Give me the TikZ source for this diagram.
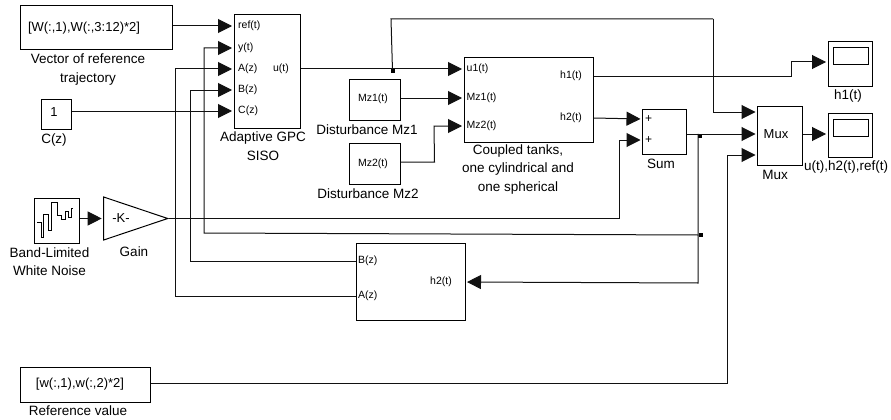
\documentclass[tikz,border=0pt]{standalone}
\usepackage{fontspec}
\setmainfont{Liberation Sans}
\usetikzlibrary{arrows.meta,shapes.geometric}
\definecolor{WireGray}{HTML}{111111}

\begin{document}
\begin{tikzpicture}[x=1pt,y=-1pt,
  block/.style={draw,line width=1pt,inner sep=0pt,font=\fontsize{13}{15}\selectfont},
  lab/.style={inner sep=0pt,align=center,font=\fontsize{13.5}{18.5}\selectfont},
  port/.style={inner sep=0pt,font=\fontsize{10.5}{12}\selectfont},
  wire/.style={WireGray,line width=1pt},
  sig/.style={wire,-{Triangle[length=14pt,width=14pt]},shorten >=1.5pt},
  dot/.style={fill=black,inner sep=0pt,minimum size=4pt}]
  \useasboundingbox (0,0) rectangle (891,420);
  % sources
  \node[block,minimum width=152pt,minimum height=44pt] (vec) at (96,28) {\hspace*{-24pt}\raisebox{1pt}{[W(:,1),W(:,3:12)*2]}};
  \node[block,minimum width=30pt,minimum height=30pt] (cz) at (56,114) {\hspace*{-4pt}\raisebox{3pt}{1}};
  \node[block,minimum width=45pt,minimum height=45pt] (noise) at (56.5,220.5) {};
  \draw[line width=0.8pt] (37,222) -- (41,222) -- (41,237) -- (43,237) -- (43,214) -- (48,214)
    -- (48,230) -- (51,230) -- (51,202) -- (57,202) -- (57,215) -- (61,215) -- (61,219)
    -- (65,219) -- (65,211) -- (68,211) -- (68,217) -- (71,217) -- (71,208) -- (73,208);
  \node[draw,line width=1pt,inner sep=0pt,isosceles triangle,isosceles triangle stretches,
    minimum width=43pt,minimum height=64pt,anchor=apex] (gain) at (169,218.5) {};
  \node[block,minimum width=130pt,minimum height=35pt] (refval) at (85,384.5) {\hspace*{-10pt}[w(:,1),w(:,2)*2]};
  \node[block,minimum width=51pt,minimum height=41pt,font=\fontsize{10.5}{12}\selectfont] (mzone) at (374.5,99.5) {\hspace*{-3pt}\raisebox{3pt}{Mz1(t)}};
  \node[block,minimum width=51pt,minimum height=41pt,font=\fontsize{10.5}{12}\selectfont] (mztwo) at (374.5,163.5) {\hspace*{-3pt}\raisebox{2pt}{Mz2(t)}};
  % main blocks
  \node[block,minimum width=66pt,minimum height=113pt] (gpc) at (267,71.5) {};
  \node[block,minimum width=129pt,minimum height=84pt] (tanks) at (528.5,100) {};
  \node[block,minimum width=109pt,minimum height=77pt] (est) at (410.5,281.5) {};
  \node[block,minimum width=44pt,minimum height=45pt] (sum) at (664.5,131.5) {};
  \node[block,minimum width=45pt,minimum height=59pt] (mux) at (779.5,135.5) {\hspace*{-7pt}\raisebox{2pt}{Mux}};
  \node[block,minimum width=44pt,minimum height=44pt] (scopeh) at (850,64) {};
  \node[block,minimum width=44pt,minimum height=44pt] (scopeu) at (850,135) {};
  \node[draw,line width=1pt,inner sep=0pt,minimum width=35pt,minimum height=17pt] (scrh) at (850.5,56.5) {};
  \node[draw,line width=1pt,inner sep=0pt,minimum width=35pt,minimum height=17pt] (scru) at (850.5,127.5) {};
  \node[port,font=\fontsize{13}{15}\selectfont] (gtxt) at (121,218) {-K-};
  % ports
  \node[port,anchor=west] (pref) at (238,26) {ref(t)};
  \node[port,anchor=west] (py) at (238,48) {y(t)};
  \node[port,anchor=west] (pa) at (238,69) {A(z)};
  \node[port,anchor=west] (pb) at (238,90) {B(z)};
  \node[port,anchor=west] (pc) at (238,111) {C(z)};
  \node[port,anchor=east] (pu) at (289,69) {u(t)};
  \node[port,anchor=west] (puone) at (466.5,69) {u1(t)};
  \node[port,anchor=west] (pmzone) at (466.5,98) {Mz1(t)};
  \node[port,anchor=west] (pmztwo) at (466.5,126) {Mz2(t)};
  \node[port,anchor=east] (phone) at (582,76) {h1(t)};
  \node[port,anchor=east] (phtwo) at (582,118) {h2(t)};
  \node[port,anchor=west] (eb) at (358,261) {B(z)};
  \node[port,anchor=west] (ea) at (358,296) {A(z)};
  \node[port,anchor=east] (eh) at (452,282) {h2(t)};
  \node[port,anchor=west,font=\fontsize{12}{12}\selectfont] (splus) at (645,119) {+};
  \node[port,anchor=west,font=\fontsize{12}{12}\selectfont] (splustwo) at (645,140) {+};
  % block names
  \node[lab] (lvec) at (88,69.5) {Vector of reference\\trajectory};
  \node[lab] (lcz) at (54,140) {C(z)};
  \node[lab] (lnoise) at (49.5,261.5) {Band-Limited\\White Noise};
  \node[lab] (lgain) at (134,252) {Gain};
  \node[lab] (lgpc) at (263,146) {Adaptive GPC\\SISO};
  \node[lab] (lmzone) at (367,130) {Disturbance Mz1};
  \node[lab] (lmztwo) at (368,194) {Disturbance Mz2};
  \node[lab] (ltanks) at (518,169.5) {Coupled tanks,\\one cylindrical and\\one spherical};
  \node[lab] (lsum) at (661,164) {Sum};
  \node[lab] (lmux) at (775,175) {Mux};
  \node[lab] (lscopeh) at (848,96) {h1(t)};
  \node[lab] (lscopeu) at (846,167) {u(t),h2(t),ref(t)};
  \node[lab] (lrefval) at (78,411) {Reference value};
  % junctions
  \node[dot] (jone) at (392.5,71) {};
  \node[dot] (jtwo) at (700,136) {};
  \node[dot] (jthree) at (700.5,235) {};
  % bends
  \coordinate (ua) at (391,19);
  \coordinate (ub) at (713,19);
  \coordinate (muxa) at (757,112);
  \coordinate (muxb) at (757,134);
  \coordinate (muxc) at (757,155);
  \coordinate (sumout) at (687,134);
  % left side
  \draw[sig] (vec.east |- pref) -- (gpc.west |- pref);
  \draw[sig] (cz.east |- pc) -- (gpc.west |- pc);
  \draw[sig] (noise.east |- gain.apex) -- (gain.left corner |- gain.apex);
  \draw[sig] (jthree.west) -- (204,233) -- (204,48) -- (gpc.west |- py);
  \draw[sig] (est.west |- ea) -- (175,296) -- (175,69) -- (gpc.west |- pa);
  \draw[sig] (est.west |- eb) -- (190,261) -- (190,90) -- (gpc.west |- pb);
  % plant
  \draw[sig] (gpc.east |- pu) -- (tanks.west |- puone);
  \draw[sig] (mzone.east |- pmzone) -- (tanks.west |- pmzone);
  \draw[sig] (mztwo.east) ++(0,-1.5) -- ++(34,0) -- (434,126) -- (tanks.west |- pmztwo);
  \draw[sig] (tanks.east |- phtwo) -- (sum.west |- splus);
  \draw[sig] (gain.apex) -- (619,218.5) -- (619,140) -- (sum.west |- splustwo);
  % right side
  \draw[wire] (jone) -- (ua) -- (ub);
  \draw[sig] (ub) -- (713,112) -- (muxa);
  \draw[sig] (sumout) -- (muxb);
  \draw[sig] (refval.east |- 0,383) -- (727,383) -- (727,155) -- (muxc);
  \draw[sig] (mux.east |- muxb) -- (scopeu.west |- muxb);
  \draw[sig] (tanks.east |- phone) -- (791,76) -- (791,62) -- (scopeh.west |- 0,62);
  \draw[sig] (jtwo.north) ++(-2,0) -- (698,283) -- (est.east |- eh);
\end{tikzpicture}
\end{document}
